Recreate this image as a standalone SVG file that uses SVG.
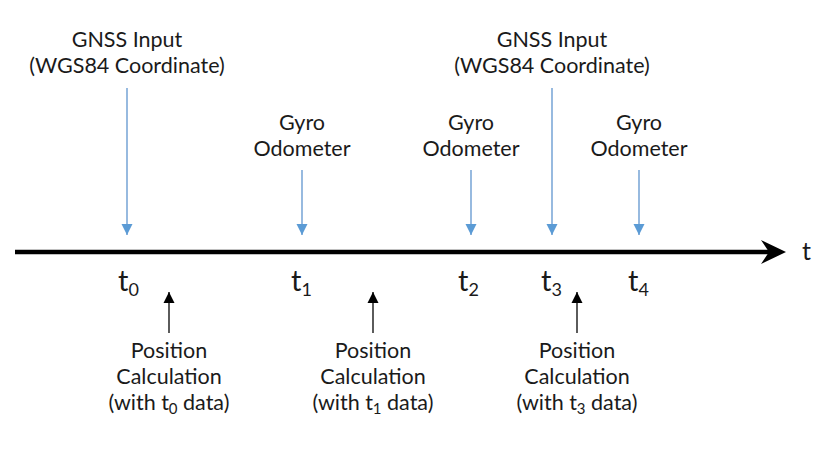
<svg xmlns="http://www.w3.org/2000/svg" width="840" height="462" viewBox="0 0 840 462">
<style>
text{font-family:Lato,"Open Sans",sans-serif;fill:#1a1a1a;}
.lbl{font-size:21.5px;text-anchor:middle;}
.tt{font-size:29px;}
.sub{font-size:18px;}
.blue{stroke:#7ea9d8;stroke-width:1.6;fill:none;}
.blk{stroke:#333;stroke-width:1.6;fill:none;}
</style>
<defs>
<marker id="bh" markerWidth="12" markerHeight="12" viewBox="0 0 12 12" refX="11" refY="6" orient="auto" markerUnits="userSpaceOnUse">
<path d="M0,0.5 L11,6 L0,11.5 Z" fill="#5b9bd5"/>
</marker>
<marker id="kh" markerWidth="12" markerHeight="12" viewBox="0 0 12 12" refX="11" refY="6" orient="auto" markerUnits="userSpaceOnUse">
<path d="M0,0.5 L11,6 L0,11.5 Z" fill="#000"/>
</marker>
</defs>
<rect width="840" height="462" fill="#fff"/>
<g id="connectors">
<line x1="15" y1="252" x2="772" y2="252" stroke="#000" stroke-width="4.5"/>
<path d="M761,240 L786,252 L761,264 L769,252 Z" fill="#000"/>
<line class="blue" x1="127" y1="88" x2="127" y2="235" marker-end="url(#bh)"/>
<line class="blue" x1="302" y1="170" x2="302" y2="235" marker-end="url(#bh)"/>
<line class="blue" x1="471" y1="170" x2="471" y2="235" marker-end="url(#bh)"/>
<line class="blue" x1="552" y1="88" x2="552" y2="235" marker-end="url(#bh)"/>
<line class="blue" x1="639" y1="170" x2="639" y2="235" marker-end="url(#bh)"/>
<line class="blk" x1="169" y1="333" x2="169" y2="292" marker-end="url(#kh)"/>
<line class="blk" x1="373" y1="333" x2="373" y2="292" marker-end="url(#kh)"/>
<line class="blk" x1="577" y1="333" x2="577" y2="292" marker-end="url(#kh)"/>
</g>
<g id="axis-label"><text x="802" y="260" font-size="25">t</text></g>
<g id="gnss1"><text class="lbl" x="127" y="47">GNSS Input</text><text class="lbl" x="127" y="73">(WGS84 Coordinate)</text></g>
<g id="gnss2"><text class="lbl" x="552" y="47">GNSS Input</text><text class="lbl" x="552" y="73">(WGS84 Coordinate)</text></g>
<g id="gyro1"><text class="lbl" x="302" y="130">Gyro</text><text class="lbl" x="302" y="156">Odometer</text></g>
<g id="gyro2"><text class="lbl" x="471" y="130">Gyro</text><text class="lbl" x="471" y="156">Odometer</text></g>
<g id="gyro3"><text class="lbl" x="639" y="130">Gyro</text><text class="lbl" x="639" y="156">Odometer</text></g>
<g id="t0"><text class="tt" x="118" y="291">t<tspan class="sub" dy="5">0</tspan></text></g>
<g id="t1"><text class="tt" x="291" y="291">t<tspan class="sub" dy="5">1</tspan></text></g>
<g id="t2"><text class="tt" x="458" y="291">t<tspan class="sub" dy="5">2</tspan></text></g>
<g id="t3"><text class="tt" x="541" y="291">t<tspan class="sub" dy="5">3</tspan></text></g>
<g id="t4"><text class="tt" x="628" y="291">t<tspan class="sub" dy="5">4</tspan></text></g>
<g id="calc0"><text class="lbl" x="169" y="358">Position</text><text class="lbl" x="169" y="384">Calculation</text><text class="lbl" x="169" y="410">(with t<tspan font-size="15" dy="4">0</tspan><tspan dy="-4"> data)</tspan></text></g>
<g id="calc1"><text class="lbl" x="373" y="358">Position</text><text class="lbl" x="373" y="384">Calculation</text><text class="lbl" x="373" y="410">(with t<tspan font-size="15" dy="4">1</tspan><tspan dy="-4"> data)</tspan></text></g>
<g id="calc3"><text class="lbl" x="577" y="358">Position</text><text class="lbl" x="577" y="384">Calculation</text><text class="lbl" x="577" y="410">(with t<tspan font-size="15" dy="4">3</tspan><tspan dy="-4"> data)</tspan></text></g>
</svg>
